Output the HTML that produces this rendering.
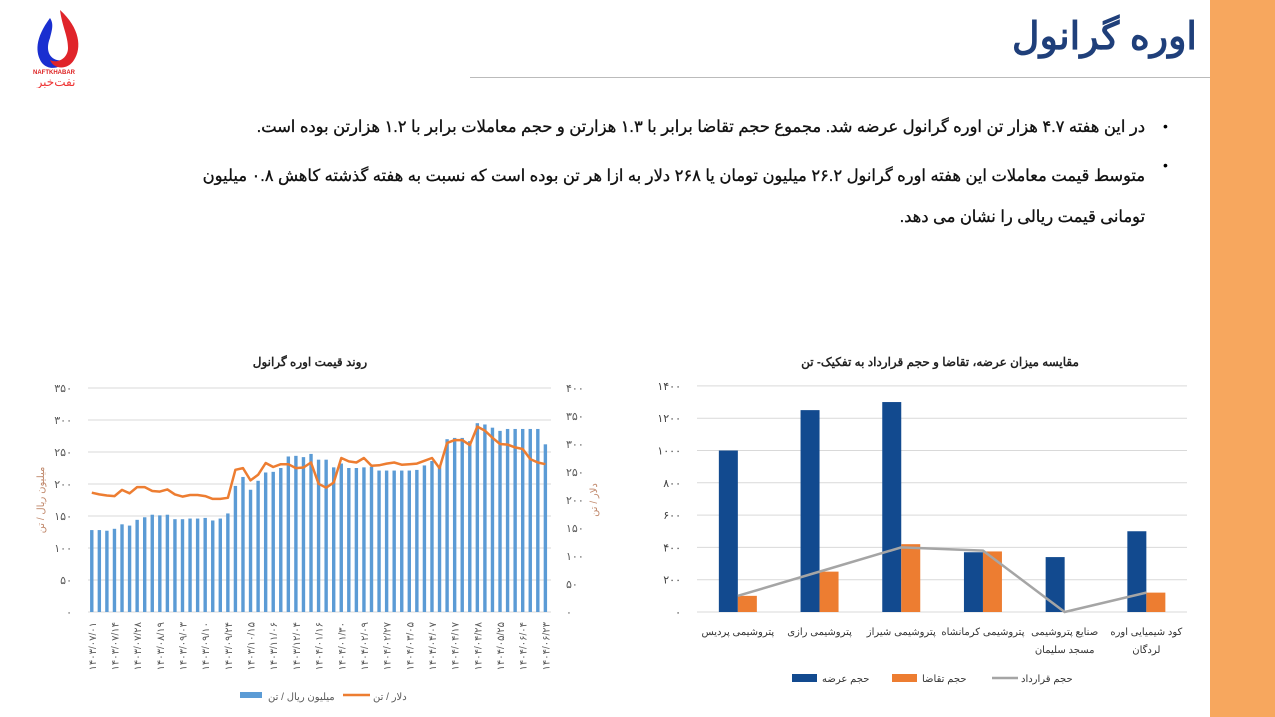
<!DOCTYPE html>
<html><head><meta charset="utf-8">
<style>
body{margin:0;width:1275px;height:717px;background:#fff;overflow:hidden;position:relative;font-family:"Liberation Sans","Noto Sans CJK SC",sans-serif}
.stripe{position:absolute;left:1210px;top:0;width:65px;height:717px;background:#F7A75E}
.hr{position:absolute;left:470px;top:77px;width:740px;height:1px;background:#bbb}
.title{position:absolute;right:78px;top:14px;font-size:38px;font-weight:bold;color:#1F3F7A;direction:rtl}
.txt{position:absolute;right:130px;width:985px;direction:rtl;text-align:right;font-size:16.3px;color:#111;-webkit-text-stroke:0.3px #111}
.bul{position:absolute;left:1163px;font-size:14px}
</style></head><body>
<div class="stripe"></div><div class="hr"></div>
<svg style="position:absolute;left:30px;top:8px" width="55" height="80">
<path d="M20 10 C5 30 5 45 12 55 C18 62 30 62 36 52 C22 55 14 45 20 30 C22 22 24 16 20 10Z" fill="#1a2fd0"/>
<path d="M30 2 C50 20 52 40 44 52 C38 62 24 62 20 52 C28 56 38 50 38 40 C38 28 32 18 30 2Z" fill="#e0242a"/>
<text x="24" y="66" font-size="6" font-weight="bold" fill="#d22" text-anchor="middle">NAFTKHABAR</text>
<text x="26" y="78" font-size="12" fill="#e33" text-anchor="middle">نفت‌خبر</text>
</svg>
<div class="title">اوره گرانول</div>
<div class="bul" style="top:118px">•</div>
<div class="bul" style="top:157px">•</div>
<div class="txt" style="top:117px;width:1030px">در این هفته ۴.۷ هزار تن اوره گرانول عرضه شد. مجموع حجم تقاضا برابر با ۱.۳ هزارتن و حجم معاملات برابر با ۱.۲ هزارتن بوده است.</div>
<div class="txt" style="top:156px;line-height:41px">متوسط قیمت معاملات این هفته اوره گرانول ۲۶.۲ میلیون تومان یا ۲۶۸ دلار به ازا هر تن بوده است که نسبت به هفته گذشته کاهش ۰.۸ میلیون تومانی قیمت ریالی را نشان می دهد.</div>
<svg id="c" width="1275" height="717" style="position:absolute;left:0;top:0" font-family="Liberation Sans, Noto Sans CJK SC, sans-serif"></svg>
<script>
const fa=n=>String(n).replace(/\d/g,d=>'۰۱۲۳۴۵۶۷۸۹'[d]);
let s='';
for(let k=0;k<=7;k++){let y=612-k*32;s+=`<line x1="88" x2="551" y1="${y}" y2="${y}" stroke="#d9d9d9"/>`;
s+=`<text x="72" y="${y+4}" font-size="11" fill="#595959" text-anchor="end">${fa(k*50)}</text>`;}
for(let k=0;k<=8;k++){let y=612-k*28;s+=`<text x="566" y="${y+4}" font-size="11" fill="#595959">${fa(k*50)}</text>`;}
const bars=[128,128,127,130,137,135,144,148,152,151,152,145,145,146,146,147,143,146,154,197,211,191,205,218,219,225,243,244,242,247,238,238,226,232,225,225,226,227,221,221,221,221,221,222,229,236,228,270,272,272,267,295,293,288,283,286,286,286,286,286,262];
const ln=[213,210,208,207,218,212,223,223,216,215,219,210,206,209,209,207,202,202,204,254,257,235,245,266,259,264,264,257,258,267,229,222,231,275,269,267,275,261,262,265,267,263,264,265,270,275,257,302,307,307,298,331,324,311,300,299,294,291,273,267,264];
const bw=7.56;let pts=[];
bars.forEach((v,i)=>{let cx=88+bw*(i+.5);s+=`<rect x="${cx-1.7}" y="${612-v*224/350}" width="3.4" height="${v*224/350}" fill="#5B9BD5"/>`;pts.push(cx.toFixed(1)+','+(612-ln[i]*224/400).toFixed(1));});
s+=`<polyline points="${pts.join(' ')}" fill="none" stroke="#ED7D31" stroke-width="2.5" stroke-linejoin="round"/>`;
const labs=['۱۴۰۳/۰۷/۰۱','۱۴۰۳/۰۷/۱۴','۱۴۰۳/۰۷/۲۸','۱۴۰۳/۰۸/۱۹','۱۴۰۳/۰۹/۰۳','۱۴۰۳/۰۹/۱۰','۱۴۰۳/۰۹/۲۴','۱۴۰۳/۱۰/۱۵','۱۴۰۳/۱۱/۰۶','۱۴۰۳/۱۲/۰۴','۱۴۰۴/۰۱/۱۶','۱۴۰۴/۰۱/۳۰','۱۴۰۴/۰۲/۰۹','۱۴۰۴/۰۲/۲۷','۱۴۰۴/۰۳/۰۵','۱۴۰۴/۰۴/۰۷','۱۴۰۴/۰۴/۱۷','۱۴۰۴/۰۴/۲۸','۱۴۰۴/۰۵/۲۵','۱۴۰۴/۰۶/۰۴','۱۴۰۴/۰۶/۲۳'];
labs.forEach((t,j)=>{let cx=88+bw*(j*3+.5)+4;s+=`<text transform="translate(${cx},622) rotate(-90)" font-size="10" fill="#595959" text-anchor="end" direction="ltr">${t}</text>`;});
s+=`<text x="310" y="366" font-size="12" font-weight="bold" fill="#222" text-anchor="middle">روند قیمت اوره گرانول</text>`;
s+=`<text transform="translate(44,500) rotate(-90)" font-size="10" fill="#C0876A" text-anchor="middle">میلیون ریال / تن</text>`;
s+=`<text transform="translate(597,500) rotate(-90)" font-size="10" fill="#C0876A" text-anchor="middle">دلار / تن</text>`;
s+=`<rect x="240" y="692" width="22" height="6" fill="#5B9BD5"/><text x="268" y="700" font-size="10" fill="#595959">میلیون ریال / تن</text>`;
s+=`<line x1="343" x2="370" y1="695" y2="695" stroke="#ED7D31" stroke-width="2.5"/><text x="373" y="700" font-size="10" fill="#595959">دلار / تن</text>`;
for(let k=0;k<=7;k++){let y=612-k*32.3;s+=`<line x1="697" x2="1187" y1="${y}" y2="${y}" stroke="#d9d9d9"/>`;
s+=`<text x="681" y="${y+4}" font-size="11" fill="#404040" text-anchor="end">${fa(k*200)}</text>`;}
const sup=[1000,1250,1300,370,340,500],dem=[100,250,420,375,0,120],con=[100,250,400,380,0,120];
const cats=[['پتروشیمی پردیس'],['پتروشیمی رازی'],['پتروشیمی شیراز'],['پتروشیمی کرمانشاه'],['صنایع پتروشیمی','مسجد سلیمان'],['کود شیمیایی اوره','لردگان']];
let cp=[];const f=32.3/200;
sup.forEach((v,i)=>{let c=697+81.7*(i+.5);s+=`<rect x="${c-19}" y="${612-v*f}" width="19" height="${v*f}" fill="#124A8F"/>`;
s+=`<rect x="${c}" y="${612-dem[i]*f}" width="19" height="${dem[i]*f}" fill="#ED7D31"/>`;cp.push(c+','+(612-con[i]*f));
cats[i].forEach((t,l)=>s+=`<text x="${c}" y="${635+l*18}" font-size="10" fill="#333" text-anchor="middle">${t}</text>`);});
s+=`<polyline points="${cp.join(' ')}" fill="none" stroke="#A5A5A5" stroke-width="2.5"/>`;
s+=`<text x="940" y="366" font-size="12" font-weight="bold" fill="#222" text-anchor="middle">مقایسه میزان عرضه، تقاضا و حجم قرارداد به تفکیک-  تن</text>`;
s+=`<rect x="792" y="674" width="25" height="8" fill="#124A8F"/><text x="822" y="682" font-size="10" fill="#333">حجم عرضه</text>`;
s+=`<rect x="892" y="674" width="25" height="8" fill="#ED7D31"/><text x="922" y="682" font-size="10" fill="#333">حجم تقاضا</text>`;
s+=`<line x1="992" x2="1018" y1="678" y2="678" stroke="#A5A5A5" stroke-width="2.5"/><text x="1021" y="682" font-size="10" fill="#333">حجم قرارداد</text>`;
document.getElementById('c').innerHTML=s;
</script>
</body></html>
